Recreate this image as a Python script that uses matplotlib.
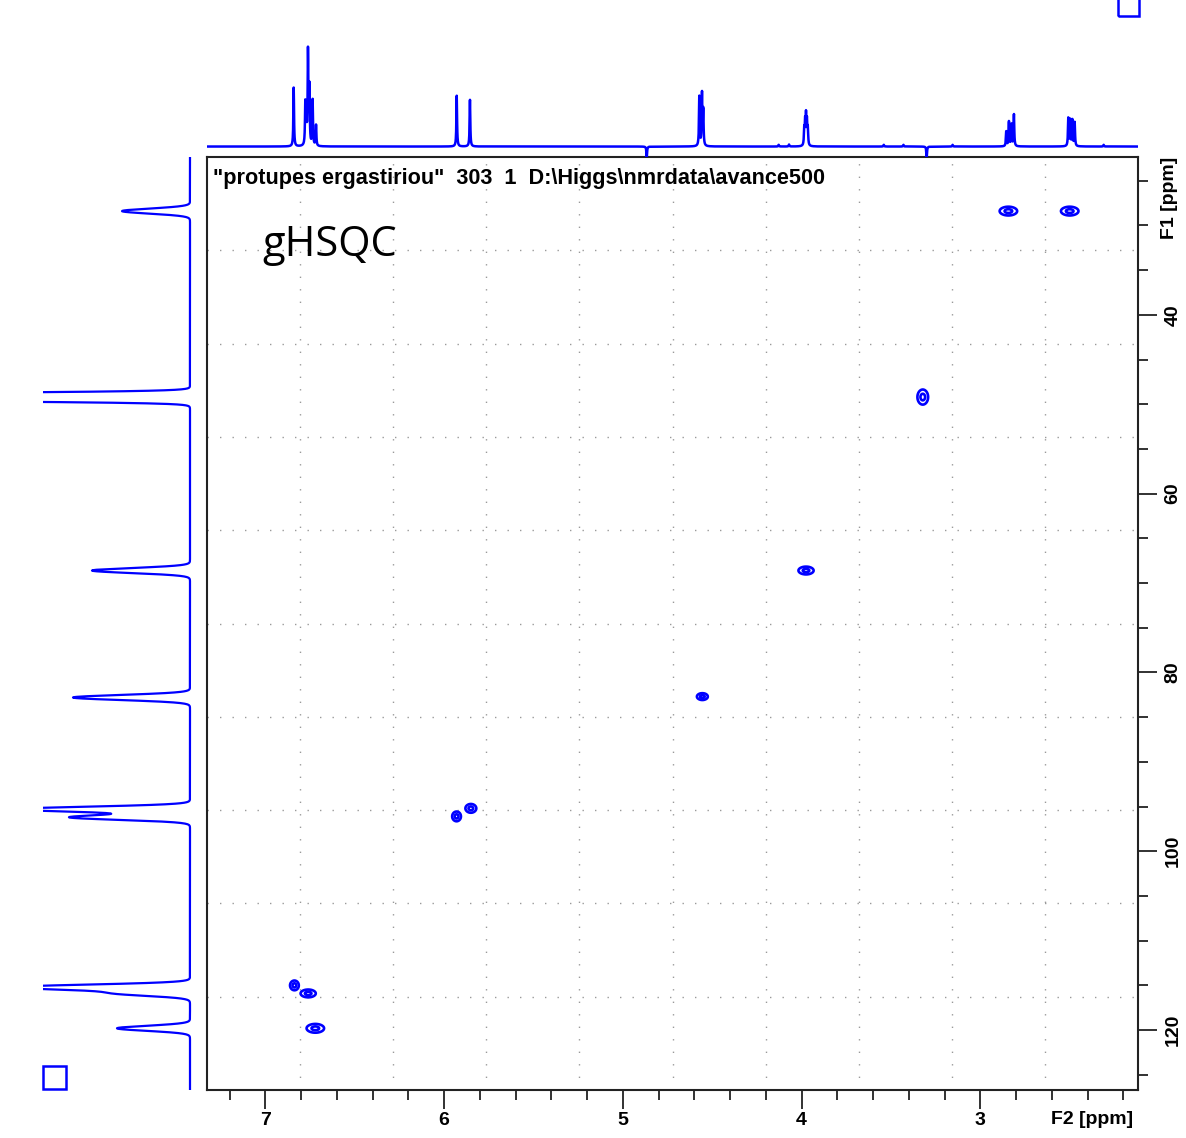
import numpy as np
import matplotlib
matplotlib.use("Agg")
import matplotlib.pyplot as plt
from matplotlib.patches import Rectangle
from matplotlib.ticker import FixedLocator, MultipleLocator

# ---------------- data ----------------
# 2D cross peaks (F2 1H ppm, F1 13C ppm) and approximate extents (ppm)
cross_f2 = [2.843, 2.500, 3.322, 3.975, 4.555, 5.850, 5.930, 6.837, 6.760, 6.720]
cross_f1 = [28.4, 28.4, 49.2, 68.6, 82.7, 95.2, 96.1, 115.0, 115.9, 119.8]
cross_w2 = [0.090, 0.090, 0.055, 0.078, 0.056, 0.056, 0.045, 0.045, 0.078, 0.090]
cross_w1 = [0.90, 0.90, 1.55, 0.80, 0.70, 0.90, 1.00, 1.00, 0.80, 0.90]

# 1H projection (top): line positions (ppm) and intensities
h_ppm = [6.841, 6.776, 6.770, 6.761, 6.753, 6.735, 6.716,
         5.929, 5.855,
         4.572, 4.557, 4.550,
         3.985, 3.980, 3.975, 3.970, 3.965,
         2.855, 2.840, 2.826, 2.812,
         2.508, 2.497, 2.485, 2.472,
         4.866, 3.300,
         4.128, 4.070, 3.540, 3.430, 3.155, 2.310]
h_int = [59, 42, 27, 94, 57, 46, 21,
         51, 47,
         50, 52, 35,
         16, 22, 28, 22, 16,
         15, 25, 22, 32,
         28, 26, 26, 24,
         -11, -11,
         1.7, 2.0, 1.7, 1.7, 1.7, 1.7]

# 13C projection (left): line positions (ppm) and intensities
c_ppm = [28.4, 49.2, 68.6, 82.8, 95.3, 96.2, 115.2, 115.9, 119.8]
c_int = [68, 1000, 98, 117, 175, 120, 175, 71, 73]

title_text = '"protupes ergastiriou"  303  1  D:\\Higgs\\nmrdata\\avance500'
exp_text = "gHSQC"
f2_label = "F2 [ppm]"
f1_label = "F1 [ppm]"
f2_major = [7, 6, 5, 4, 3]
f1_major = [40, 60, 80, 100, 120]

# ---------------- layout ----------------
W, H = 1186, 1138
BLUE = "#0000ff"
f2_lim = (7.326, 2.118)
f1_lim = (126.7, 22.35)

fig = plt.figure(figsize=(W / 100, H / 100), dpi=100)
fig.patch.set_facecolor("white")

def fig_rect(x0, y0, x1, y1):
    return [x0 / W, 1 - y1 / H, (x1 - x0) / W, (y1 - y0) / H]

ax = fig.add_axes(fig_rect(207, 157, 1138, 1090))
axt = fig.add_axes(fig_rect(207, 20, 1138, 157))
axl = fig.add_axes(fig_rect(43, 157, 200, 1090))

# ---------------- main 2D ----------------
ax.set_xlim(*f2_lim)
ax.set_ylim(*f1_lim)

x2 = np.linspace(min(f2_lim), max(f2_lim), 1600)
y1 = np.linspace(min(f1_lim), max(f1_lim), 1600)
X, Y = np.meshgrid(x2, y1)
Z = np.zeros_like(X)
for p2, p1, w2, w1 in zip(cross_f2, cross_f1, cross_w2, cross_w1):
    s2 = w2 / 3.2
    s1 = w1 / 3.2
    Z += np.exp(-((X - p2) ** 2 / (2 * s2 ** 2) + (Y - p1) ** 2 / (2 * s1 ** 2)))
ax.contour(X, Y, Z, levels=[0.22, 0.75], colors=BLUE, linewidths=1.9)

# dotted grid at tenths of the frame
for f in np.arange(1, 10) / 10:
    xv = f2_lim[0] + f * (f2_lim[1] - f2_lim[0])
    yv = f1_lim[1] + f * (f1_lim[0] - f1_lim[1])
    ax.axvline(xv, color="#9a9a9a", lw=1.0, ls=(0, (1, 8)), zorder=0)
    ax.axhline(yv, color="#9a9a9a", lw=1.0, ls=(0, (1, 8)), zorder=0)

for s in ax.spines.values():
    s.set_linewidth(1.5)
    s.set_color("#222222")

ax.xaxis.set_major_locator(FixedLocator(f2_major))
ax.xaxis.set_minor_locator(MultipleLocator(0.2))
ax.yaxis.set_major_locator(FixedLocator(f1_major))
ax.yaxis.set_minor_locator(MultipleLocator(5))
ax.yaxis.tick_right()
ax.tick_params(axis="both", which="major", direction="out", length=14, width=1.3,
               color="#222222")
ax.tick_params(axis="both", which="minor", direction="out", length=7, width=1.3,
               color="#222222")
ax.tick_params(axis="x", which="major", pad=2, labelsize=14)
ax.tick_params(axis="y", which="major", pad=5, labelsize=14, labelrotation=90)
ax.set_xticklabels([str(v) for v in f2_major])
ax.set_yticklabels([str(v) for v in f1_major])
for lbl in ax.get_xticklabels() + ax.get_yticklabels():
    lbl.set_fontweight("bold")
    lbl.set_family("Liberation Sans")
for lbl in ax.get_yticklabels():
    lbl.set_va("center")

fig.text(1092 / W, 1 - 1119 / H, f2_label, ha="center", va="center",
         fontsize=14, fontweight="bold", family="Liberation Sans")
fig.text(1170 / W, 1 - 198 / H, f1_label, ha="center", va="center", rotation=90,
         fontsize=14, fontweight="bold", family="Liberation Sans")

ax.text(0.006, 0.977, title_text, transform=ax.transAxes, ha="left", va="center",
        fontsize=15.6, fontweight="bold", family="Liberation Sans")
ax.text(0.060, 0.906, exp_text, transform=ax.transAxes, ha="left", va="center",
        fontsize=30, family="Open Sans")

# ---------------- top 1H projection ----------------
xs = np.linspace(min(f2_lim), max(f2_lim), 9000)
spec_h = np.zeros_like(xs)
g_h = 0.0022
for p, a in zip(h_ppm, h_int):
    spec_h += a * g_h ** 2 / ((xs - p) ** 2 + g_h ** 2)
axt.plot(xs, spec_h, color=BLUE, lw=1.8)
axt.set_xlim(*f2_lim)
axt.set_ylim(-10.5, 127)
axt.axis("off")

# ---------------- left 13C projection ----------------
ys = np.linspace(min(f1_lim), max(f1_lim), 6000)
spec_c = np.zeros_like(ys)
s_c = 0.28
for p, a in zip(c_ppm, c_int):
    spec_c += a * np.exp(-(ys - p) ** 2 / (2 * s_c ** 2))
axl.plot(spec_c, ys, color=BLUE, lw=1.6)
axl.set_xlim(147, -10)
axl.set_ylim(*f1_lim)
axl.axis("off")

# ---------------- small icons ----------------
fig.patches.append(Rectangle((43 / W, 1 - 1089 / H), 23 / W, 23 / H,
                             transform=fig.transFigure, fill=False,
                             edgecolor=BLUE, lw=1.8))
fig.patches.append(Rectangle((1118 / W, 1 - 16 / H), 21 / W, 24 / H,
                             transform=fig.transFigure, fill=False,
                             edgecolor=BLUE, lw=1.8, clip_on=False))

fig.savefig("out.png", dpi=100, facecolor="white")
